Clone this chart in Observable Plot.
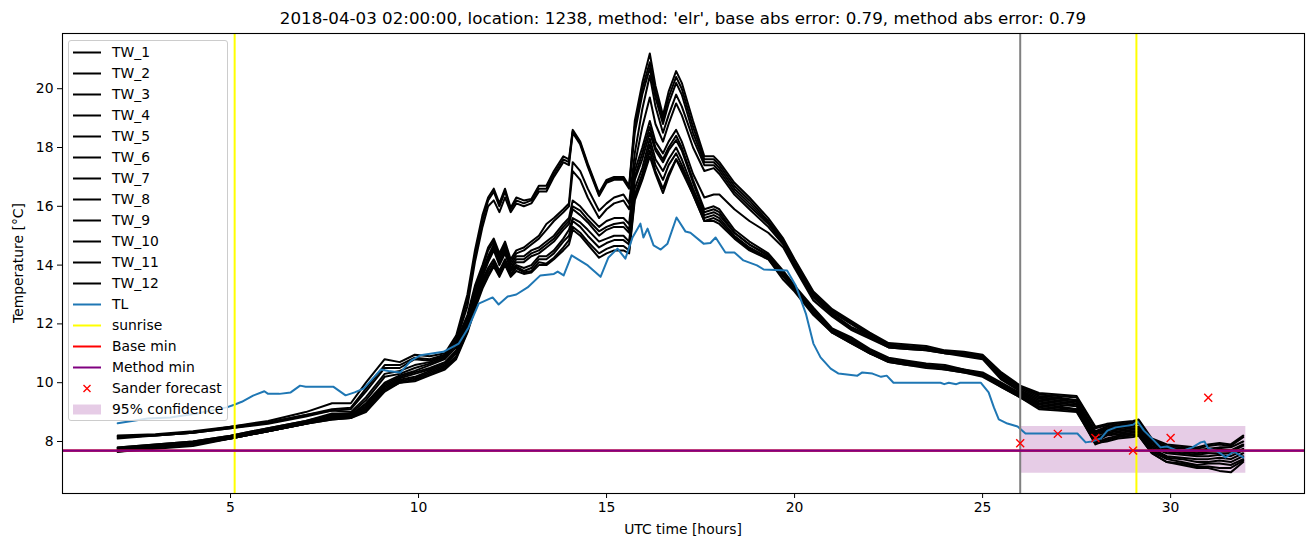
<!DOCTYPE html>
<html>
<head>
<meta charset="utf-8">
<script src="https://cdn.jsdelivr.net/npm/d3@7"></script>
<script src="https://cdn.jsdelivr.net/npm/@observablehq/plot@0.6"></script>
<style>
  html, body { margin: 0; padding: 0; background: white; }
  #wrap { position: relative; width: 1311px; height: 547px; font-family: "DejaVu Sans", sans-serif; color: black; }
  #title { position: absolute; left: 62px; width: 1242px; top: 7px; text-align: center; font-size: 16.7px; line-height: 22px; white-space: nowrap; }
  #ylabel { position: absolute; left: 18px; top: 263px; transform: translate(-50%, -50%) rotate(-90deg); font-size: 13.9px; white-space: nowrap; }
  #xlabel { position: absolute; left: 62px; width: 1242px; top: 519px; text-align: center; font-size: 13.9px; line-height: 20px; white-space: nowrap; }
  #legend { position: absolute; left: 68px; top: 40px; width: 160px; height: 381px; border: 1px solid #cccccc; border-radius: 3px; background: rgba(255,255,255,0.8); box-sizing: border-box; }
  .row { position: absolute; left: 4px; height: 21px; display: flex; align-items: center; font-size: 13.9px; white-space: nowrap; }
  .row span { margin-left: 11px; }
</style>
</head>
<body>
<div id="wrap">
  <div id="chart"></div>
  <div id="title"></div>
  <div id="ylabel"></div>
  <div id="xlabel"></div>
  <div id="legend"></div>
</div>
<script>
// ---------- data ----------
const titleText = "2018-04-03 02:00:00, location: 1238, method: 'elr', base abs error: 0.79, method abs error: 0.79";
const xLabel = "UTC time [hours]";
const yLabel = "Temperature [°C]";

const hours = [2, 3, 4, 5, 6, 7, 7.7, 8.2, 8.6, 9.1,
  9.5, 9.9, 10.3, 10.7, 11.0, 11.3, 11.5, 11.7, 11.85, 12.0,
  12.15, 12.3, 12.45, 12.6, 12.8, 13.0, 13.2, 13.4, 13.6, 13.85,
  14.0, 14.1, 14.3, 14.5, 14.8, 15.0, 15.2, 15.45, 15.6, 15.75,
  15.95, 16.15, 16.3, 16.5, 16.65, 16.85, 17.0, 17.3, 17.6, 17.85,
  18.0, 18.4, 18.8, 19.3, 19.7, 20.0, 20.5, 21.0, 21.5, 22.0,
  22.5, 23.0, 23.5, 24.0, 24.5, 25.0, 25.5, 26.0, 26.5, 27.0,
  27.5, 28.0, 28.3, 28.6, 29.0, 29.15, 29.5, 29.9, 30.3, 30.7,
  31.0, 31.3, 31.6, 31.93];

const tw1 = [8.2, 8.25, 8.35, 8.5, 8.7, 9.0, 9.3, 9.3, 10.0, 10.8,
  10.7, 10.95, 10.9, 11.0, 11.6, 13.0, 14.5, 15.7, 16.3, 16.6,
  16.1, 16.6, 15.95, 16.3, 16.2, 16.25, 16.7, 16.7, 17.2, 17.7,
  17.6, 18.6, 18.2, 17.45, 16.45, 16.9, 17.0, 17.0, 16.7, 18.9,
  20.2, 21.2, 20.1, 19.1, 19.9, 20.6, 20.2, 18.9, 17.7, 17.7,
  17.5, 16.8, 16.3, 15.6, 14.9, 14.2, 13.1, 12.5, 12.1, 11.7,
  11.35, 11.3, 11.25, 11.1, 11.05, 10.95, 10.35, 9.9, 9.65, 9.6,
  9.55, 8.5, 8.6, 8.65, 8.7, 8.75, 8.1, 7.9, 7.85, 7.8,
  7.9, 7.95, 7.9, 8.2];
const tw2 = [8.15, 8.2, 8.3, 8.45, 8.65, 8.9, 9.1, 9.15, 9.8, 10.6,
  10.6, 10.85, 10.8, 10.95, 11.5, 12.8, 14.3, 15.5, 16.2, 16.5,
  16.0, 16.5, 15.9, 16.2, 16.1, 16.2, 16.6, 16.6, 17.1, 17.6,
  17.5, 18.55, 18.15, 17.4, 16.4, 16.85, 16.95, 16.95, 16.65, 18.7,
  20.0, 20.9, 19.9, 18.95, 19.7, 20.4, 20.0, 18.7, 17.6, 17.6,
  17.4, 16.7, 16.2, 15.5, 14.85, 14.1, 13.05, 12.45, 12.05, 11.65,
  11.3, 11.25, 11.2, 11.05, 11.0, 10.9, 10.3, 9.85, 9.6, 9.55,
  9.5, 8.45, 8.55, 8.6, 8.65, 8.7, 8.05, 7.85, 7.8, 7.75,
  7.85, 7.9, 7.85, 8.15];
const tw3 = [8.1, 8.2, 8.3, 8.45, 8.6, 8.85, 9.05, 9.1, 9.7, 10.5,
  10.5, 10.8, 10.75, 10.9, 11.4, 12.6, 14.1, 15.3, 16.0, 16.2,
  15.8, 16.3, 15.8, 16.1, 16.0, 16.1, 16.5, 16.5, 17.0, 17.5,
  17.4, 18.5, 18.1, 17.35, 16.35, 16.8, 16.9, 16.9, 16.6, 18.5,
  19.8, 20.7, 19.7, 18.8, 19.5, 20.2, 19.8, 18.5, 17.5, 17.5,
  17.3, 16.6, 16.1, 15.45, 14.8, 14.05, 13.0, 12.4, 12.0, 11.6,
  11.3, 11.2, 11.15, 11.05, 11.0, 10.9, 10.25, 9.85, 9.55, 9.5,
  9.4, 8.35, 8.5, 8.55, 8.6, 8.65, 8.0, 7.8, 7.75, 7.7,
  7.75, 7.8, 7.8, 8.0];
const tw4 = [8.15, 8.2, 8.3, 8.5, 8.65, 8.9, 9.05, 9.0, 9.5, 10.3,
  10.4, 10.6, 10.7, 10.9, 11.4, 12.3, 13.3, 14.0, 14.6, 14.9,
  14.4, 14.8, 14.2, 14.5, 14.6, 14.8, 15.0, 15.4, 15.6, 15.9,
  16.1, 17.5, 17.2, 16.6, 15.85, 16.1, 16.3, 16.4, 16.1, 17.8,
  19.3, 20.45, 19.4, 18.5, 19.1, 19.8, 19.4, 18.3, 17.4, 17.4,
  17.2, 16.5, 16.0, 15.4, 14.75, 14.0, 12.95, 12.35, 11.9, 11.6,
  11.25, 11.2, 11.15, 11.0, 10.95, 10.85, 10.2, 9.8, 9.5, 9.45,
  9.4, 8.3, 8.45, 8.5, 8.55, 8.6, 7.95, 7.75, 7.7, 7.65,
  7.7, 7.75, 7.7, 7.9];
const tw5 = [7.8, 7.9, 8.0, 8.2, 8.45, 8.7, 8.95, 8.95, 9.4, 10.2,
  10.3, 10.5, 10.65, 10.85, 11.3, 12.2, 13.2, 13.9, 14.5, 14.8,
  14.3, 14.7, 14.1, 14.4, 14.5, 14.7, 14.9, 15.2, 15.5, 15.8,
  16.0, 17.2, 16.9, 16.3, 15.6, 15.9, 16.1, 16.2, 15.9, 17.4,
  18.7, 19.7, 18.8, 18.2, 18.8, 19.5, 19.1, 18.0, 17.2, 17.3,
  17.1, 16.4, 15.9, 15.3, 14.7, 13.95, 12.9, 12.3, 11.85, 11.55,
  11.2, 11.15, 11.1, 11.0, 10.95, 10.85, 10.15, 9.75, 9.45, 9.4,
  9.35, 8.25, 8.4, 8.45, 8.5, 8.5, 7.9, 7.7, 7.65, 7.6,
  7.65, 7.7, 7.65, 7.85];
const tw6 = [7.75, 7.85, 7.95, 8.15, 8.4, 8.65, 8.9, 8.9, 9.3, 10.0,
  10.25, 10.4, 10.6, 10.8, 11.2, 12.1, 13.1, 13.8, 14.3, 14.7,
  14.2, 14.6, 14.0, 14.3, 14.3, 14.5, 14.6, 14.8, 15.0, 15.4,
  15.6, 16.2, 16.0, 15.7, 15.3, 15.5, 15.6, 15.6, 15.4, 17.2,
  18.0, 18.9, 18.2, 17.8, 18.2, 18.6, 18.2, 17.1, 16.3, 16.4,
  16.4, 15.9, 15.5, 15.1, 14.6, 13.9, 12.8, 12.25, 11.8, 11.5,
  11.2, 11.15, 11.1, 11.0, 10.9, 10.8, 10.1, 9.7, 9.4, 9.35,
  9.3, 8.2, 8.35, 8.4, 8.45, 8.45, 7.85, 7.65, 7.6, 7.55,
  7.6, 7.6, 7.6, 7.75];
const tw7 = [7.8, 7.9, 8.0, 8.2, 8.45, 8.7, 8.9, 8.9, 9.25, 9.95,
  10.2, 10.35, 10.5, 10.7, 11.1, 12.0, 13.0, 13.7, 14.2, 14.6,
  14.1, 14.5, 13.9, 14.2, 14.2, 14.4, 14.5, 14.7, 14.9, 15.3,
  15.5, 16.0, 15.85, 15.55, 15.15, 15.3, 15.4, 15.45, 15.2, 17.0,
  17.8, 18.7, 18.0, 17.6, 18.0, 18.4, 18.0, 16.9, 15.9, 16.0,
  15.9, 15.2, 14.8, 14.4, 13.8, 13.3, 12.55, 11.85, 11.55, 11.15,
  10.85, 10.75, 10.65, 10.6, 10.45, 10.35, 10.0, 9.65, 9.35, 9.3,
  9.25, 8.1, 8.3, 8.35, 8.4, 8.4, 7.8, 7.6, 7.55, 7.5,
  7.5, 7.55, 7.5, 7.7];
const tw8 = [7.7, 7.85, 7.95, 8.1, 8.35, 8.6, 8.85, 8.85, 9.2, 9.9,
  10.15, 10.3, 10.45, 10.65, 11.05, 11.95, 12.9, 13.6, 14.1, 14.5,
  14.0, 14.4, 13.85, 14.1, 14.1, 14.3, 14.4, 14.6, 14.8, 15.2,
  15.4, 15.9, 15.7, 15.45, 15.0, 15.2, 15.3, 15.3, 15.1, 16.9,
  17.6, 18.5, 17.9, 17.5, 17.9, 18.25, 17.9, 16.8, 15.8, 15.9,
  15.8, 15.1, 14.7, 14.35, 13.75, 13.25, 12.5, 11.8, 11.5, 11.1,
  10.8, 10.7, 10.6, 10.55, 10.45, 10.3, 9.95, 9.6, 9.3, 9.25,
  9.2, 8.05, 8.25, 8.3, 8.35, 8.35, 7.75, 7.5, 7.45, 7.4,
  7.4, 7.45, 7.4, 7.6];
const tw9 = [7.75, 7.85, 7.95, 8.15, 8.4, 8.65, 8.8, 8.85, 9.15, 9.85,
  10.1, 10.2, 10.4, 10.6, 11.0, 11.9, 12.8, 13.5, 13.9, 14.2,
  13.8, 14.2, 13.8, 14.0, 13.9, 14.0, 14.3, 14.3, 14.5, 14.9,
  15.2, 15.6, 15.45, 15.2, 14.8, 14.9, 15.0, 15.0, 14.8, 16.6,
  17.3, 18.3, 17.6, 17.2, 17.6, 18.0, 17.6, 16.6, 15.7, 15.8,
  15.7, 15.1, 14.7, 14.3, 13.7, 13.2, 12.45, 11.8, 11.45, 11.05,
  10.75, 10.7, 10.6, 10.5, 10.4, 10.3, 9.9, 9.55, 9.25, 9.2,
  9.1, 8.0, 8.2, 8.25, 8.3, 8.3, 7.7, 7.45, 7.4, 7.3,
  7.3, 7.35, 7.3, 7.5];
const tw10 = [7.65, 7.8, 7.9, 8.1, 8.35, 8.6, 8.8, 8.8, 9.1, 9.8,
  10.05, 10.15, 10.35, 10.55, 10.9, 11.8, 12.7, 13.4, 13.8, 14.1,
  13.7, 14.1, 13.7, 13.95, 13.8, 13.9, 14.2, 14.2, 14.4, 14.8,
  15.0, 15.5, 15.3, 15.0, 14.6, 14.75, 14.85, 14.85, 14.7, 16.4,
  17.1, 18.1, 17.4, 16.9, 17.4, 17.8, 17.4, 16.5, 15.6, 15.7,
  15.6, 15.0, 14.6, 14.25, 13.65, 13.2, 12.4, 11.75, 11.4, 11.0,
  10.75, 10.65, 10.55, 10.5, 10.4, 10.25, 9.9, 9.55, 9.2, 9.15,
  9.1, 7.95, 8.1, 8.2, 8.25, 8.25, 7.65, 7.4, 7.3, 7.2,
  7.25, 7.25, 7.2, 7.4];
const tw11 = [7.7, 7.8, 7.9, 8.1, 8.35, 8.6, 8.75, 8.8, 9.05, 9.75,
  10.0, 10.1, 10.3, 10.5, 10.85, 11.75, 12.6, 13.3, 13.7, 14.0,
  13.65, 14.05, 13.65, 13.9, 13.75, 13.8, 14.1, 14.05, 14.25, 14.6,
  14.85, 15.3, 15.1, 14.8, 14.4, 14.55, 14.65, 14.65, 14.5, 16.3,
  16.95, 17.9, 17.2, 16.6, 17.1, 17.6, 17.3, 16.4, 15.5, 15.6,
  15.5, 14.95, 14.55, 14.2, 13.6, 13.15, 12.35, 11.7, 11.35, 11.0,
  10.7, 10.6, 10.55, 10.45, 10.35, 10.25, 9.85, 9.5, 9.15, 9.1,
  9.05, 7.9, 8.05, 8.15, 8.2, 8.2, 7.6, 7.3, 7.25, 7.15,
  7.15, 7.1, 7.1, 7.35];
const tw12 = [7.65, 7.75, 7.85, 8.1, 8.35, 8.6, 8.75, 8.8, 9.0, 9.7,
  10.0, 10.05, 10.25, 10.45, 10.8, 11.7, 12.5, 13.2, 13.6, 13.95,
  13.6, 14.0, 13.6, 13.8, 13.7, 13.75, 14.0, 14.0, 14.2, 14.5,
  14.7, 15.2, 15.0, 14.7, 14.25, 14.4, 14.5, 14.5, 14.4, 16.2,
  16.9, 17.7, 17.1, 16.45, 17.0, 17.6, 17.2, 16.4, 15.5, 15.5,
  15.4, 14.9, 14.5, 14.2, 13.5, 13.1, 12.3, 11.7, 11.35, 11.0,
  10.7, 10.6, 10.5, 10.45, 10.35, 10.2, 9.85, 9.5, 9.1, 9.05,
  9.0, 7.95, 8.0, 8.1, 8.15, 8.2, 7.6, 7.3, 7.2, 7.1,
  7.1, 7.0, 6.95, 7.3];
const twNames = ["TW_1","TW_2","TW_3","TW_4","TW_5","TW_6","TW_7","TW_8","TW_9","TW_10","TW_11","TW_12"];
const twValues = [tw1, tw2, tw3, tw4, tw5, tw6, tw7, tw8, tw9, tw10, tw11, tw12];

const tlHours = [2.0, 2.8, 3.4, 4.1, 4.9, 5.1, 5.3, 5.6, 5.9, 6.0, 6.3, 6.6, 6.85, 7.0, 7.74, 8.06, 8.3, 8.54, 8.9, 9.0,
  9.2, 9.52, 9.8, 10.05, 10.66, 11.07, 11.33, 11.6, 11.97, 12.13, 12.37, 12.6, 12.9, 13.24, 13.6, 13.7, 13.86, 14.07, 14.5, 14.84,
  15.05, 15.29, 15.5, 15.69, 15.9, 15.98, 16.09, 16.25, 16.44, 16.62, 16.86, 17.1, 17.23, 17.58, 17.76, 17.9, 18.16, 18.4, 18.64, 19.0,
  19.18, 19.8, 20.03, 20.3, 20.5, 20.69, 20.96, 21.17, 21.67, 21.8, 22.07, 22.3, 22.45, 22.63, 23.88, 23.98, 24.1, 24.3, 24.4, 24.95,
  25.16, 25.3, 25.43, 25.66, 25.93, 26.14, 27.52, 27.74, 27.9, 28.14, 28.32, 28.54, 28.86, 29.0, 29.12, 29.29, 29.56, 29.73, 29.9, 30.18,
  30.4, 30.58, 30.8, 30.9, 31.0, 31.2, 31.33, 31.46, 31.68, 31.93];
const tlTemps = [8.62, 8.78, 8.82, 8.95, 9.16, 9.25, 9.35, 9.56, 9.71, 9.62, 9.62, 9.67, 9.9, 9.86, 9.86, 9.57, 9.67, 9.8, 10.31, 10.45,
  10.4, 10.35, 10.75, 10.93, 11.05, 11.33, 11.88, 12.69, 12.9, 12.66, 12.93, 13.0, 13.24, 13.65, 13.7, 13.78, 13.65, 14.33, 13.99, 13.6,
  14.26, 14.56, 14.22, 14.94, 15.41, 14.94, 15.24, 14.67, 14.53, 14.73, 15.62, 15.14, 15.1, 14.73, 14.75, 14.94, 14.43, 14.43, 14.16, 13.99,
  13.85, 13.82, 13.31, 12.35, 11.33, 10.86, 10.48, 10.31, 10.24, 10.35, 10.31, 10.2, 10.24, 10.0, 10.0, 9.95, 10.0, 9.95, 10.0, 10.0,
  9.67, 9.16, 8.75, 8.61, 8.51, 8.27, 8.27, 7.97, 8.0, 8.1, 8.37, 8.48, 8.54, 8.57, 8.68, 8.37, 8.03, 7.8, 7.83, 7.69,
  7.72, 7.8, 7.97, 8.0, 7.76, 7.69, 7.59, 7.46, 7.66, 7.46];

const sunriseHours = [5.11, 29.09];
const forecastStartHour = [26];
const baseMin = [7.69];
const methodMin = [7.69];
const sanderHours = [26, 27, 28, 29, 30, 31];
const sanderTemps = [7.94, 8.26, 8.12, 7.69, 8.12, 9.49];
const confStart = 26, confEnd = 32, confLow = 6.92, confHigh = 8.51;

const xTicks = [5, 10, 15, 20, 25, 30];
const yTicks = [8, 10, 12, 14, 16, 18, 20];

const legendLabels = [...twNames, "TL", "sunrise", "Base min", "Method min", "Sander forecast", "95% confidence"];

// ---------- tables ----------
const twTable = [];
twValues.forEach((vals, i) => vals.forEach((v, j) => twTable.push({series: twNames[i], hour: hours[j], temp: v})));
const tlTable = tlHours.map((h, i) => ({hour: h, temp: tlTemps[i]}));
const sanderTable = sanderHours.map((h, i) => ({hour: h, temp: sanderTemps[i]}));
const confTable = [{x1: confStart, x2: confEnd, y1: confLow, y2: confHigh}];

const chart = Plot.plot({
  width: 1311,
  height: 547,
  marginLeft: 62,
  marginRight: 7,
  marginTop: 33,
  marginBottom: 54,
  style: {fontFamily: "DejaVu Sans", fontSize: "13.9px", color: "black", background: "white"},
  x: {domain: [0.532, 33.56], ticks: xTicks, tickSize: 5, tickPadding: 4, label: null},
  y: {domain: [6.231, 21.878], ticks: yTicks, tickSize: 5, tickPadding: 4, label: null},
  marks: [
    Plot.rect(confTable, {x1: "x1", x2: "x2", y1: "y1", y2: "y2", fill: "purple", fillOpacity: 0.2}),
    Plot.line(twTable, {x: "hour", y: "temp", z: "series", stroke: "black", strokeWidth: 2}),
    Plot.line(tlTable, {x: "hour", y: "temp", stroke: "#1f77b4", strokeWidth: 2}),
    Plot.ruleX(sunriseHours, {stroke: "yellow", strokeWidth: 2}),
    Plot.ruleX(forecastStartHour, {stroke: "grey", strokeWidth: 2}),
    Plot.ruleY(baseMin, {stroke: "red", strokeWidth: 2.4}),
    Plot.ruleY(methodMin, {stroke: "purple", strokeWidth: 2.4}),
    Plot.dot(sanderTable, {x: "hour", y: "temp", symbol: "times", stroke: "red", r: 3.7, strokeWidth: 1.4}),
    Plot.frame({stroke: "black", strokeWidth: 1.1})
  ]
});
document.getElementById("chart").appendChild(chart);

document.getElementById("title").textContent = titleText;
document.getElementById("xlabel").textContent = xLabel;
document.getElementById("ylabel").textContent = yLabel;

// ---------- legend ----------
const legend = document.getElementById("legend");
const handleColors = [...twNames.map(() => "black"), "#1f77b4", "yellow", "red", "purple"];
legendLabels.forEach((label, i) => {
  const row = document.createElement("div");
  row.className = "row";
  row.style.top = (11 + 21 * i - 10.5) + "px";
  let svg;
  if (i < handleColors.length) {
    svg = `<svg width="28" height="21"><line x1="0" x2="28" y1="10.5" y2="10.5" stroke="${handleColors[i]}" stroke-width="2"/></svg>`;
  } else if (label === "Sander forecast") {
    svg = `<svg width="28" height="21"><path d="M10.5,7L17.5,14M17.5,7L10.5,14" stroke="red" stroke-width="1.4"/></svg>`;
  } else {
    svg = `<svg width="28" height="21"><rect x="0" y="5.5" width="28" height="10" fill="purple" fill-opacity="0.2"/></svg>`;
  }
  row.innerHTML = svg + `<span></span>`;
  row.querySelector("span").textContent = label;
  legend.appendChild(row);
});
</script>
</body>
</html>
